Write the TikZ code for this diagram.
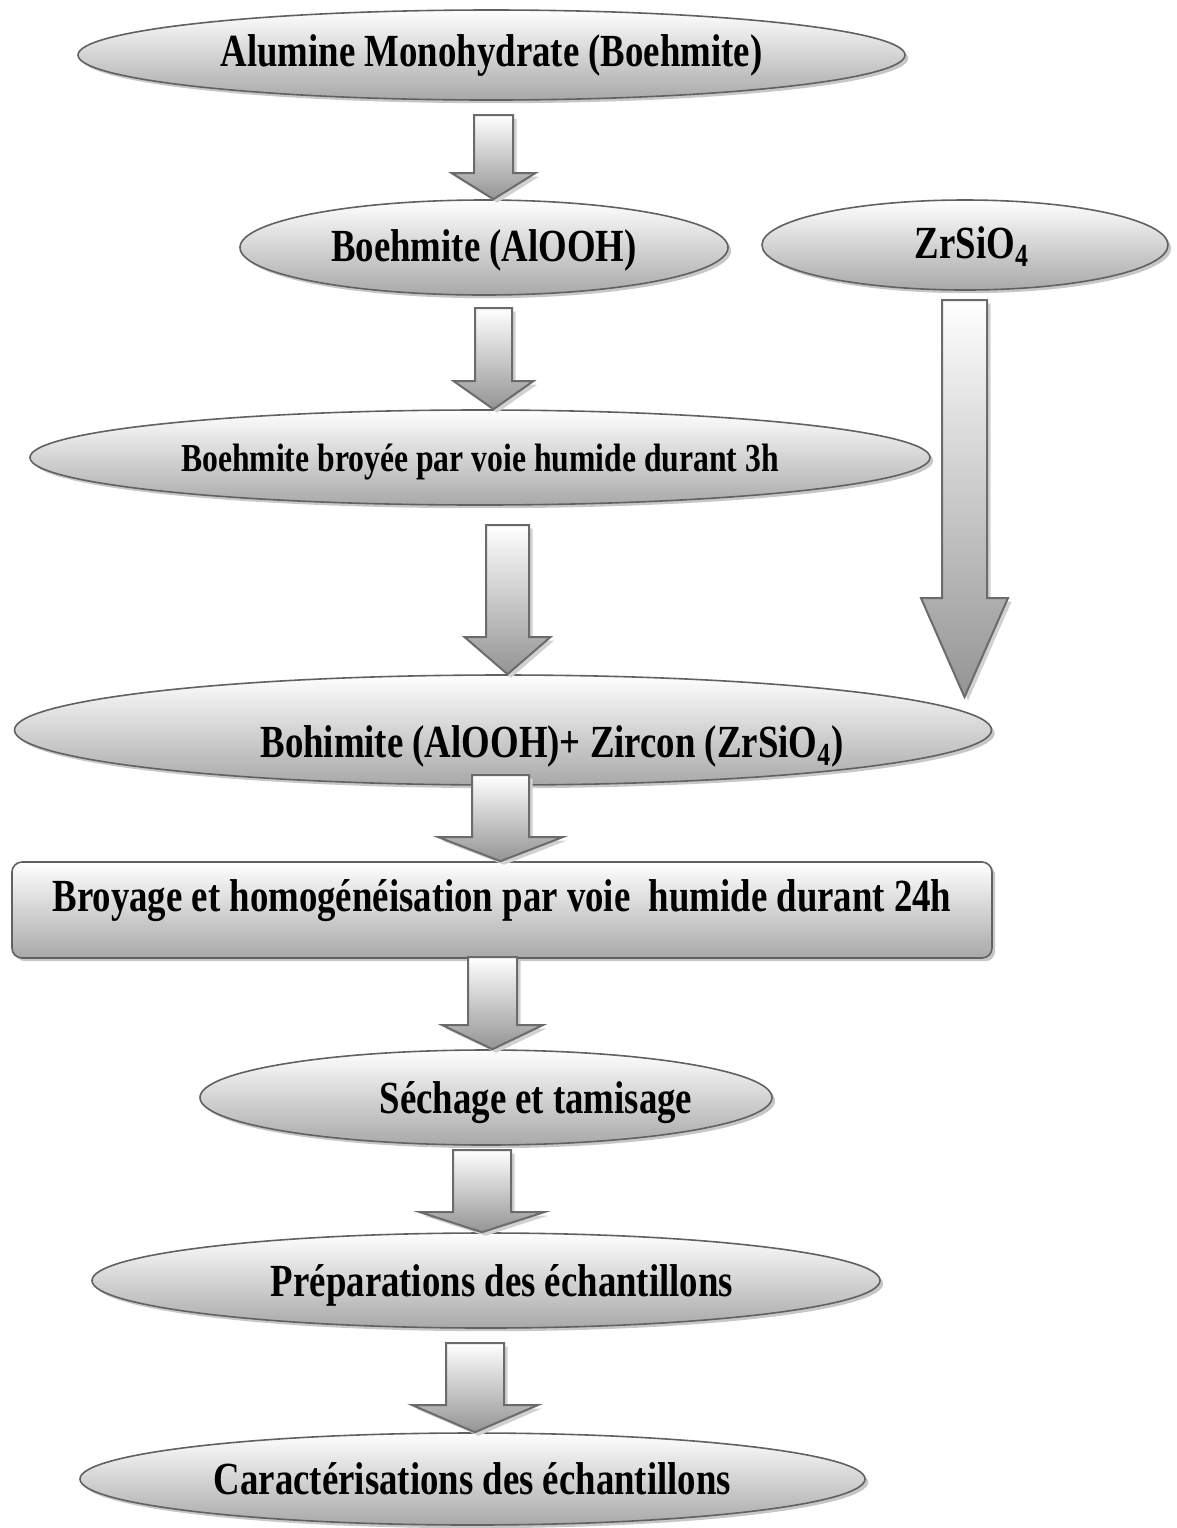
\documentclass[tikz,border=0pt]{standalone}
\usepackage{fontspec}
\setmainfont{Liberation Serif}[FakeStretch=0.8]
\usetikzlibrary{shapes.geometric,shadows,calc}

\tikzset{
  stage/.style={ellipse, draw=black!62, line width=0.8pt, inner sep=0pt,
    top color=white, bottom color=black!34,
    drop shadow={shadow xshift=1.6pt, shadow yshift=-1.6pt, fill=black!22, opacity=1},
    font=\bfseries\fontsize{23}{27}\selectfont, text height=16.8pt, text depth=5pt},
  stagebox/.style={rectangle, rounded corners=5pt, draw=black!62, line width=0.8pt,
    top color=white, bottom color=black!34,
    drop shadow={shadow xshift=1.6pt, shadow yshift=-1.6pt, fill=black!22, opacity=1},
    font=\bfseries\fontsize{23}{27}\selectfont, text height=16pt, text depth=15pt},
  arrowbox/.style={draw=black!58, line width=1pt, top color=white, bottom color=black!42,
    drop shadow={shadow xshift=1.8pt, shadow yshift=-1.8pt, fill=black!18, opacity=1}}
}

% text moved inside its shape: right, down
\newcommand{\shifttext}[3]{\makebox[0pt]{\hspace*{#1}\raisebox{-#2}{#3}}}
% block arrow: x, top y, head y, tip point, shaft half width, head half width
\newcommand{\blockarrow}[6]{%
  \draw[arrowbox] let \p1=#4 in (#1-#5,#2) -- (#1+#5,#2) -- (#1+#5,#3) -- (#1+#6,#3)
    -- (#1,\y1) -- (#1-#6,#3) -- (#1-#5,#3) -- cycle;}

\begin{document}
\begin{tikzpicture}[x=0.5pt,y=-0.5pt]
\useasboundingbox (0,0) rectangle (1177,1528);

\node[stage, minimum width=413.5pt, minimum height=45pt] (alumine) at (491.5,55) {Alumine Monohydrate (Boehmite)};
\node[stage, minimum width=244pt, minimum height=47.5pt] (boehmite) at (484,247.5) {\shifttext{0pt}{1pt}{Boehmite (AlOOH)}};
\node[stage, minimum width=203pt, minimum height=45pt] (zircon) at (965,245) {\shifttext{7pt}{1pt}{ZrSiO\textsubscript{4}}};
\node[stage, minimum width=450pt, minimum height=47.5pt, font=\bfseries\fontsize{19.8}{23}\selectfont, text height=17.6pt, text depth=3.7pt] (broyee) at (480,457.5) {Boehmite broyée par voie humide durant 3h};
\node[stage, minimum width=488.5pt, minimum height=55pt] (melange) at (503,730) {\shifttext{49pt}{8pt}{Bohimite (AlOOH)+ Zircon (ZrSiO\textsubscript{4})}};
\node[stagebox, minimum width=490pt, minimum height=48pt] (broyage) at (502,910) {Broyage et homogénéisation par voie\ \ humide durant 24h};
\node[stage, minimum width=286pt, minimum height=47.5pt] (sechage) at (486,1097.5) {\shifttext{50pt}{2pt}{Séchage et tamisage}};
\node[stage, minimum width=394pt, minimum height=47.5pt] (preparation) at (486,1280.5) {\shifttext{16pt}{2pt}{Préparations des échantillons}};
\node[stage, minimum width=392.5pt, minimum height=46pt] (caracterisation) at (472.5,1479) {\shifttext{0pt}{2pt}{Caractérisations des échantillons}};
\coordinate (zrtip) at (964.5,697);

\blockarrow{493.5}{115}{173}{(boehmite.north)}{19.5}{42}
\blockarrow{493.5}{308}{381}{(broyee.north)}{18.5}{40}
\blockarrow{507.5}{525}{637}{(melange.north)}{21.5}{43}
\blockarrow{964.5}{300}{598}{(zrtip)}{22.5}{43.5}
\blockarrow{500.5}{775}{837}{(broyage.north)}{28.5}{62.5}
\blockarrow{492.5}{957}{1025}{(sechage.north)}{24.5}{50.5}
\blockarrow{482}{1150}{1212}{(preparation.north)}{29}{62.5}
\blockarrow{475}{1343}{1405}{(caracterisation.north)}{29}{63}
\end{tikzpicture}
\end{document}
